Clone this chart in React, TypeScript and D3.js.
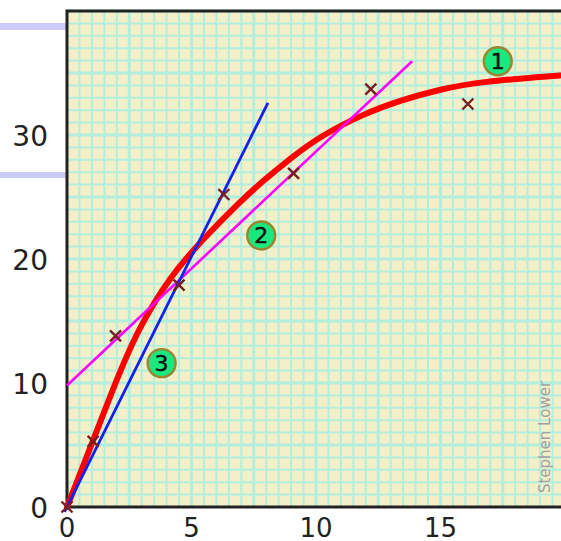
import React, { useEffect, useRef } from 'react';
import * as d3 from 'd3';

// tick labels
const xTicks = [0, 5, 10, 15];
const yTicks = [0, 10, 20, 30];

// measured points (x marks)
const pointX = [0, 1.05, 1.95, 4.5, 6.3, 9.1, 12.2, 16.1];
const pointY = [0, 5.3, 13.8, 17.9, 25.2, 26.9, 33.7, 32.5];

// curve 1 (red)
const curveX = [0, 1.04, 2.13, 2.93, 4.14, 5.46, 6.83, 7.87, 8.96, 10.16, 11.9, 13.4, 15.0, 16.6, 19.8];
const curveY = [0, 5.3, 11.0, 14.6, 18.6, 21.6, 24.4, 26.3, 28.1, 29.9, 31.7, 32.8, 33.7, 34.3, 34.8];

// line 2 (magenta) and line 3 (blue), start and end
const line2X = [0, 13.86];
const line2Y = [9.8, 35.95];
const line3X = [-0.1, 8.07];
const line3Y = [-0.4, 32.6];

// numbered callouts
const calloutText = ['1', '2', '3'];
const calloutX = [17.3, 7.8, 3.8];
const calloutY = [35.95, 21.9, 11.6];

const W = 561;
const H = 541;

export default function App() {
    const ref = useRef<SVGSVGElement>(null);

    useEffect(() => {
        const svg = d3.select(ref.current);
        svg.selectAll('*').remove();

        const x = d3.scaleLinear().domain([0, 20]).range([67, 67 + 20 * 24.9]);
        const y = d3.scaleLinear().domain([0, 40]).range([507, 11]);

        // lavender bars on the left
        svg.append('rect').attr('x', 0).attr('y', 23).attr('width', 66).attr('height', 7).attr('fill', '#ccccfa');
        svg.append('rect').attr('x', 0).attr('y', 172).attr('width', 66).attr('height', 6).attr('fill', '#ccccfa');

        const plot = svg.append('g');
        plot.append('rect')
            .attr('x', x(0)).attr('y', y(40))
            .attr('width', W - x(0)).attr('height', y(0) - y(40))
            .attr('fill', '#f3f0c9');

        // graph paper grid
        const gx = d3.range(0.5, 20.01, 0.5);
        const gy = d3.range(1, 40.01, 1);
        plot.selectAll('.vgrid').data(gx).enter().append('line')
            .attr('x1', d => x(d)).attr('x2', d => x(d))
            .attr('y1', y(40)).attr('y2', y(0))
            .attr('stroke', '#b3eedd')
            .attr('stroke-width', d => (d % 2.5 === 0 ? 3 : 2));
        plot.selectAll('.hgrid').data(gy).enter().append('line')
            .attr('x1', x(0)).attr('x2', W)
            .attr('y1', d => y(d)).attr('y2', d => y(d))
            .attr('stroke', '#b3eedd')
            .attr('stroke-width', d => (d % 5 === 0 ? 3 : 2));

        // frame
        plot.append('path')
            .attr('d', `M${W + 5},${y(40)} L${x(0)},${y(40)} L${x(0)},${y(0)} L${W + 5},${y(0)}`)
            .attr('fill', 'none').attr('stroke', '#222').attr('stroke-width', 3);

        // curve 1
        const curve = d3.line<number>()
            .x((d, i) => x(curveX[i]))
            .y(d => y(d))
            .curve(d3.curveBasis);
        plot.append('path').attr('d', curve(curveY))
            .attr('fill', 'none').attr('stroke', '#ff0000').attr('stroke-width', 6)
            .attr('stroke-linecap', 'round');

        const straight = d3.line<number[]>().x(d => d[0]).y(d => d[1]);
        plot.append('path')
            .attr('d', straight(line2X.map((v, i) => [x(v), y(line2Y[i])])))
            .attr('stroke', '#ff00ff').attr('stroke-width', 2.6).attr('fill', 'none');
        plot.append('path')
            .attr('d', straight(line3X.map((v, i) => [x(v), y(line3Y[i])])))
            .attr('stroke', '#1420f0').attr('stroke-width', 2.8).attr('fill', 'none');

        // x marks
        const s = 5.5;
        plot.selectAll('.mark').data(pointX).enter().append('path')
            .attr('d', (d, i) => {
                const cx = x(d), cy = y(pointY[i]);
                return `M${cx - s},${cy - s}L${cx + s},${cy + s}M${cx - s},${cy + s}L${cx + s},${cy - s}`;
            })
            .attr('stroke', '#7a1e22').attr('stroke-width', 2.4);

        // numbered circles
        const callouts = plot.selectAll('.callout').data(calloutText).enter().append('g')
            .attr('transform', (d, i) => `translate(${x(calloutX[i])},${y(calloutY[i])})`);
        callouts.append('circle').attr('r', 14)
            .attr('fill', '#1ae87e').attr('stroke', '#9a8530').attr('stroke-width', 2.4);
        callouts.append('text').text(d => d)
            .attr('text-anchor', 'middle').attr('dy', '0.36em')
            .attr('font-family', 'DejaVu Sans')
            .attr('font-size', 22).attr('fill', '#111')
            .attr('stroke', '#111').attr('stroke-width', 0.5);

        // signature
        svg.append('text').text('Stephen Lower')
            .attr('transform', 'translate(550,437) rotate(-90)')
            .attr('text-anchor', 'middle')
            .attr('font-family', 'DejaVu Sans').attr('font-size', 15)
            .attr('fill', '#a2a2a0');

        // axis labels
        svg.selectAll('.ylab').data(yTicks).enter().append('text')
            .text(d => d)
            .attr('x', 48).attr('y', d => y(d))
            .attr('dy', '0.4em').attr('text-anchor', 'end')
            .attr('font-family', 'DejaVu Sans').attr('font-size', 28).attr('fill', '#222');
        svg.selectAll('.xlab').data(xTicks).enter().append('text')
            .text(d => d)
            .attr('x', d => x(d)).attr('y', 537)
            .attr('text-anchor', 'middle')
            .attr('font-family', 'DejaVu Sans').attr('font-size', 26).attr('fill', '#222');
    }, []);

    return (
        <div style={{ position: 'absolute', left: 0, top: 0, background: '#fff' }}>
            <svg ref={ref} width={W} height={H} style={{ display: 'block' }} />
        </div>
    );
}
